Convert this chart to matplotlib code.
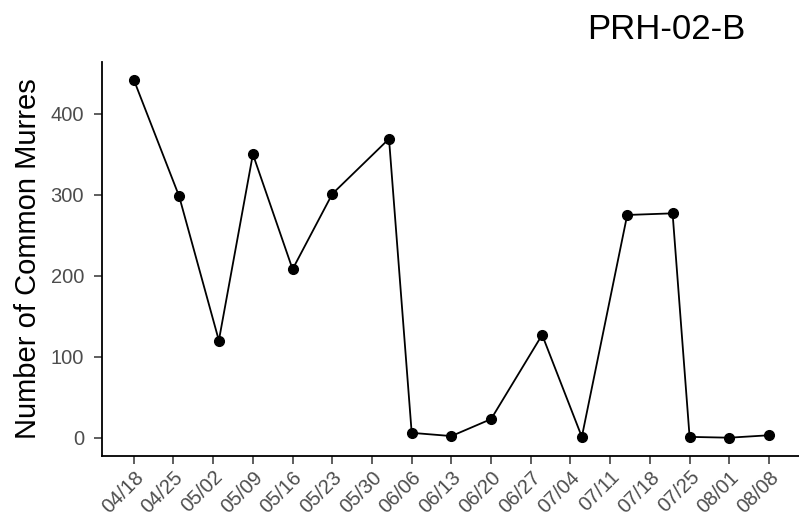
import pandas as pd
import matplotlib.pyplot as plt
import matplotlib.dates as mdates
from matplotlib.transforms import ScaledTranslation

plt.rcParams['font.family'] = ['Liberation Sans', 'DejaVu Sans']

# Survey dates and counts for the colony
survey_dates = ['2019-04-18', '2019-04-26', '2019-05-03', '2019-05-09', '2019-05-16',
                '2019-05-23', '2019-06-02', '2019-06-06', '2019-06-13', '2019-06-20',
                '2019-06-29', '2019-07-06', '2019-07-14', '2019-07-22', '2019-07-25',
                '2019-08-01', '2019-08-08']
murre_counts = [442, 298, 120, 350, 208, 301, 369, 6, 2, 23, 127, 1, 275, 277, 1, 0, 3]

tick_dates = pd.date_range('2019-04-18', '2019-08-08', freq='7D')
tick_labels = [d.strftime('%m/%d') for d in tick_dates]

df = pd.DataFrame({'date': pd.to_datetime(survey_dates), 'count': murre_counts})

fig = plt.figure(figsize=(7.99, 5.27), dpi=100)
ax = fig.add_axes([0.1277, 0.1355, 0.8745, 0.7472])

ax.plot(df['date'], df['count'], color='black', linewidth=1.3,
        marker='o', markersize=7)

# ggplot-style 5% padding on both axes
x0, x1 = mdates.date2num(df['date'].min()), mdates.date2num(df['date'].max())
pad = (x1 - x0) * 0.05
ax.set_xlim(x0 - pad, x1 + pad)
ymax = max(murre_counts)
ax.set_ylim(-0.05 * ymax, ymax * 1.05)

ax.set_xticks(tick_dates)
ax.set_xticklabels(tick_labels, rotation=45, ha='right', va='top',
                   rotation_mode='anchor')
offset = ScaledTranslation(9 / 100, -16 / 100, fig.dpi_scale_trans)
for lbl in ax.get_xticklabels():
    lbl.set_transform(lbl.get_transform() + offset)
ax.set_yticks([0, 100, 200, 300, 400])

ax.tick_params(axis='both', colors='#333333', labelcolor='#4D4D4D',
               labelsize=14.5, length=5.5, width=1.1)
ax.tick_params(axis='y', pad=7.5)
ax.tick_params(axis='x', pad=3)

for side in ['top', 'right']:
    ax.spines[side].set_visible(False)
for side in ['left', 'bottom']:
    ax.spines[side].set_linewidth(1.3)
    ax.spines[side].set_color('black')

ax.set_ylabel('Number of Common Murres', fontsize=21, color='black', labelpad=6)
fig.text(0.9325, 0.944, 'PRH-02-B', fontsize=25, ha='right', va='center', color='black')

fig.savefig('out.png', dpi=100)
